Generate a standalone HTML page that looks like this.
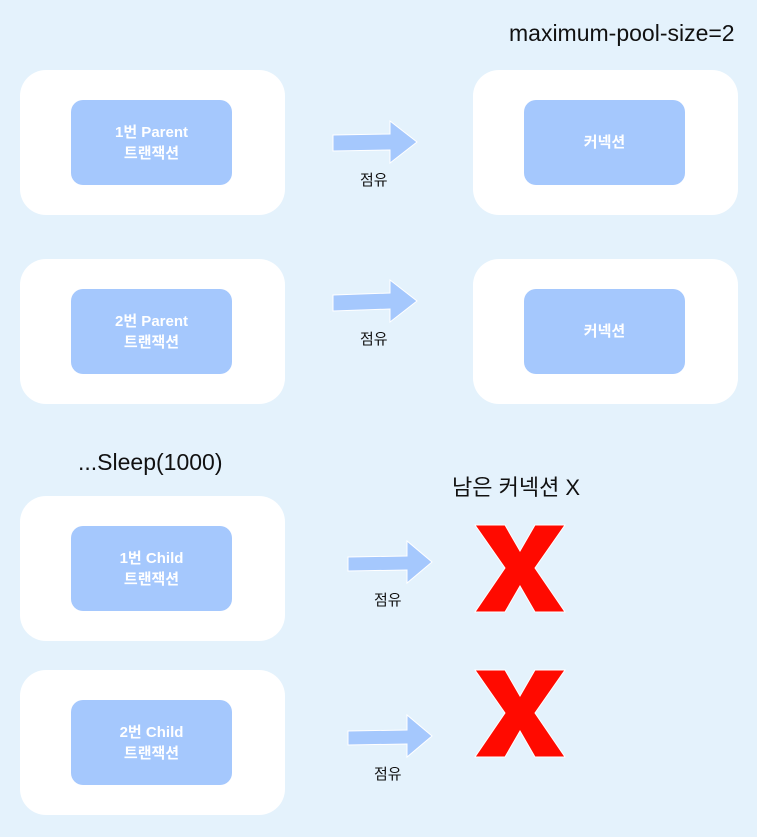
<!DOCTYPE html>
<html><head><meta charset="utf-8"><style>
body{margin:0;width:757px;height:837px;background:#e4f2fc;position:relative;overflow:hidden;font-family:"Liberation Sans","Noto Sans CJK KR",sans-serif}
.w{position:absolute;width:265px;height:145px;background:#fff;border-radius:26px}
.b{position:absolute;left:51px;top:30px;width:161px;height:85px;background:#a5c8fd;border-radius:12px;color:#fff;font-weight:bold;font-size:15px;line-height:21px;display:flex;align-items:center;justify-content:center;text-align:center}
.t{position:absolute;color:#111;white-space:nowrap}
.s{font-size:15px}
svg{position:absolute;left:0;top:0}
</style></head><body>
<div class="t" style="left:509px;top:20px;font-size:23px">maximum-pool-size=2</div>
<div class="w" style="left:20px;top:70px"><div class="b">1번 Parent<br>트랜잭션</div></div>
<div class="w" style="left:20px;top:259px"><div class="b">2번 Parent<br>트랜잭션</div></div>
<div class="w" style="left:473px;top:70px"><div class="b">커넥션</div></div>
<div class="w" style="left:473px;top:259px"><div class="b">커넥션</div></div>
<div class="t" style="left:78px;top:449px;font-size:23px">...Sleep(1000)</div>
<div class="t" style="left:452px;top:470px;font-size:22px">남은 커넥션 X</div>
<div class="w" style="left:20px;top:496px"><div class="b">1번 Child<br>트랜잭션</div></div>
<div class="w" style="left:20px;top:670px"><div class="b">2번 Child<br>트랜잭션</div></div>
<div class="t s" style="left:360px;top:169px">점유</div>
<div class="t s" style="left:360px;top:328px">점유</div>
<div class="t s" style="left:374px;top:589px">점유</div>
<div class="t s" style="left:374px;top:763px">점유</div>
<svg width="757" height="837">
<g fill="#a5c8fd" stroke="#fff" stroke-width="1">
<polygon points="333,135 390,134 390,121 417,142 390,163 390,150 333,151"/>
<polygon points="333,295 390,293 390,280 417,301 390,322 390,309 333,311"/>
<polygon points="348,557 407,556 407,541 432,562 407,583 407,570 348,571"/>
<polygon points="348,731 407,730 407,715 432,736 407,757 407,744 348,745"/>
</g>
<g fill="#ff0a00" stroke="#fff" stroke-width="1">
<polygon points="475,525 505,525 520,551 535,525 565,525 535,568 565,612 535,612 520,586 505,612 475,612 505,568"/>
<polygon points="475,670 505,670 520,696 535,670 565,670 535,713 565,757 535,757 520,731 505,757 475,757 505,713"/>
</g>
</svg>
</body></html>
